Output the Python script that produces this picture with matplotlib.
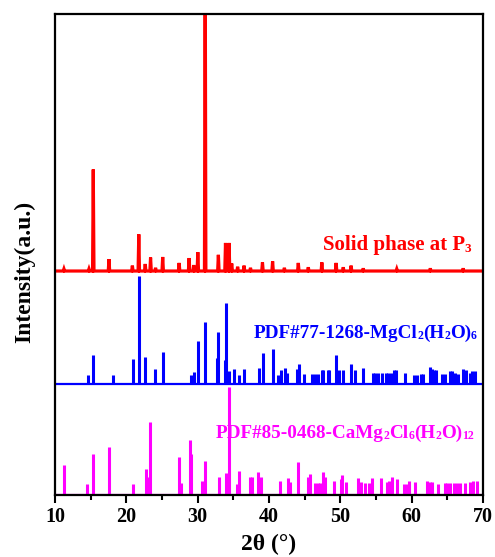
import numpy as np
import matplotlib
matplotlib.use("Agg")
import matplotlib.pyplot as plt

plt.rcParams['font.family'] = ['Liberation Serif', 'DejaVu Serif']
plt.rcParams['font.weight'] = 'bold'

# ---- data ----
# measured pattern (solid phase at P3): peak positions (2theta) and intensities
red_pos = [11.26, 14.77, 15.37, 17.57, 20.85, 21.75, 22.65, 23.4, 24.1, 25.1, 27.4, 28.8,
           29.45, 30.02, 31.05, 32.9, 33.9, 34.4, 34.77, 35.6, 36.5, 37.4, 39.08, 40.5,
           42.15, 44.1, 45.5, 47.4, 49.4, 50.4, 51.5, 53.2, 57.9, 62.6, 67.2]
red_int = [2, 2, 94, 11, 5, 34, 6.5, 12.5, 3, 13, 7.5, 12,
           5.5, 17.5, 320, 15, 26, 26, 7, 4, 5, 3, 8, 9,
           3, 7.5, 3.5, 8, 7.5, 3.5, 5, 2.5, 2, 2.5, 2.5]

# PDF#77-1268 MgCl2(H2O)6 reference sticks
blue_pos = [14.58, 15.37, 18.08, 20.89, 21.73, 22.62, 24.07, 25.1, 29.1, 29.5, 30.05, 31.07,
            32.66, 32.85, 33.78, 33.97, 34.4, 35.05, 35.84, 36.5, 38.6, 39.1, 40.5, 41.2,
            41.7, 42.24, 42.57, 43.88, 44.25, 44.9, 46.0, 46.45, 46.9, 47.4, 47.6, 48.2,
            48.45, 49.35, 49.87, 50.4, 51.5, 52.06, 53.1, 54.5, 54.86, 55.3, 55.9, 56.36,
            56.73, 57.1, 57.5, 57.8, 59.07, 60.33, 60.7, 61.3, 61.64, 62.5, 62.8, 63.1,
            63.4, 64.2, 64.7, 65.4, 65.7, 66.1, 66.5, 67.2, 67.6, 68.1, 68.4, 68.9]
blue_int = [9, 27, 9, 24, 100, 25.5, 14, 30, 9, 11.5, 40, 58,
            24.5, 48.5, 23, 75, 12.5, 14, 9, 14, 15, 29.5, 32.5, 9,
            13, 15, 11, 14, 18.5, 10, 10, 10, 10, 13, 13, 13,
            13, 27, 13, 13, 18.5, 13, 15.5, 11, 11, 11, 11, 11,
            11, 11, 13, 13, 11, 9, 9, 10, 10, 16.5, 14, 13,
            13, 10, 10, 12, 12, 11, 10, 14, 13, 11, 12, 12]

# PDF#85-0468 CaMg2Cl6(H2O)12 reference sticks
mag_pos = [11.3, 14.44, 15.28, 17.57, 20.94, 22.76, 23.0, 23.36, 27.38, 27.7, 28.88, 29.07,
           30.6, 30.98, 32.94, 33.97, 34.4, 35.47, 35.84, 37.34, 37.6, 38.4, 38.88, 41.54,
           42.6, 43.0, 44.1, 45.4, 45.75, 46.45, 46.8, 47.2, 47.5, 47.8, 49.16, 50.05,
           50.28, 50.75, 52.5, 52.85, 53.46, 54.0, 54.4, 55.7, 56.6, 56.87, 57.3, 57.9,
           58.9, 59.3, 59.67, 60.47, 62.1, 62.57, 62.9, 63.7, 64.6, 65.0, 65.4, 65.86,
           66.3, 66.7, 67.5, 68.1, 68.6, 69.1]
mag_int = [27, 10, 38, 44.5, 10, 24, 16.5, 67.5, 35, 11, 51, 38,
           13, 31.5, 16, 20, 100, 10, 22, 16.5, 16.5, 21, 16, 13,
           15, 12, 30.5, 16.5, 19.5, 11, 11, 11, 20.5, 16.5, 13, 14,
           18.5, 12, 15, 12, 11, 11, 15, 15, 12, 13, 16.5, 14,
           10, 10, 13, 12, 13, 12, 12, 10, 11, 11, 11, 11,
           11, 11, 11, 12, 13, 13]

xticks = [10, 20, 30, 40, 50, 60, 70]
# labels as (text, is_subscript) pieces
label_red = [('Solid phase at P', False), ('3', True)]
label_blue = [('PDF#77-1268-MgCl', False), ('2', True), ('(H', False), ('2', True),
              ('O)', False), ('6', True)]
label_mag = [('PDF#85-0468-CaMg', False), ('2', True), ('Cl', False), ('6', True),
             ('(H', False), ('2', True), ('O)', False), ('12', True)]

# ---- layout / style ----
off_mag, off_blue, off_red = 0, 102, 207
RED, BLUE, MAG = '#FF0000', '#0000FF', '#FF00FF'

fig = plt.figure(figsize=(4.95, 5.57), dpi=100)
ax = fig.add_axes([0.111, 0.112, 0.865, 0.863])

# measured pattern as narrow peaks on a baseline
hw = 0.1
px, py = [10.0], [0.0]
for p, h in sorted(zip(red_pos, red_int)):
    px += [p - hw, p, p + hw]
    py += [0.0, h, 0.0]
px.append(70.0)
py.append(0.0)
ax.plot(px, np.array(py) + off_red, color=RED, lw=2.3, solid_joinstyle='miter')

# reference sticks
ax.hlines(off_blue, 10, 70, color=BLUE, lw=1.6)
ax.vlines(blue_pos, off_blue, off_blue + np.array(blue_int), color=BLUE, lw=2.2)
ax.hlines(off_mag, 10, 70, color=MAG, lw=1.6)
ax.vlines(mag_pos, off_mag, off_mag + np.array(mag_int), color=MAG, lw=2.2)


def chained_label(x, y, pieces, color, big, small):
    prev = None
    for s, sub in pieces:
        fs = small if sub else big
        if prev is None:
            prev = ax.text(x, y, s, color=color, fontsize=fs, fontweight='bold',
                           ha='left', va='bottom')
        else:
            prev = ax.annotate(s, xy=(1, 0), xycoords=prev, color=color, fontsize=fs,
                               fontweight='bold', ha='left', va='bottom')


chained_label(47.5, 221.5, label_red, RED, 15, 9.5)
chained_label(37.8, 141.0, label_blue, BLUE, 13.8, 8.5)
chained_label(32.5, 48.5, label_mag, MAG, 13.8, 8.5)

ax.set_xlim(10, 70)
ax.set_ylim(0, 445)
ax.set_xticks(xticks)
ax.set_xticks(np.arange(15, 70, 10), minor=True)
ax.set_yticks([])
ax.tick_params(axis='x', which='major', direction='out', length=6, width=1.5,
               labelsize=14.5, pad=3)
ax.tick_params(axis='x', which='minor', direction='out', length=3.5, width=1.5)
for lab in ax.get_xticklabels():
    lab.set_fontweight('bold')
for s in ax.spines.values():
    s.set_linewidth(1.6)

ax.set_xlabel('2θ (°)', fontsize=17, fontweight='bold', labelpad=5)
ax.set_ylabel('Intensity(a.u.)', fontsize=17, fontweight='bold')
ax.yaxis.set_label_coords(-0.045, 0.463)

fig.savefig('out.png', dpi=100)
